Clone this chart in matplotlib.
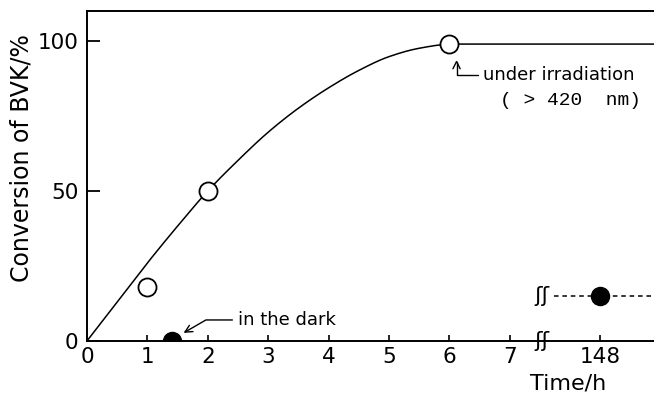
import numpy as np
import matplotlib
matplotlib.use("Agg")
import matplotlib.pyplot as plt

# ---- data ----
curve_t = [0, 0.5, 1, 1.5, 2, 2.5, 3, 3.5, 4, 4.5, 5, 5.5, 6]
curve_y = [0, 13, 26, 38.3, 50, 60.2, 69.6, 77.6, 84.4, 90.2, 94.8, 97.6, 99]
plateau_end = 9.39
light_t = [1, 2, 6]
light_y = [18, 50, 99]
dark_t = [1.4]
dark_y = [0]
late_label = "148"
late_pos = 8.5          # plotting position of t = 148 h (after axis break)
late_y = [15]
xtick_pos = [0, 1, 2, 3, 4, 5, 6, 7, late_pos]
xtick_labels = ["0", "1", "2", "3", "4", "5", "6", "7", late_label]
ytick_pos = [0, 50, 100]
break_pos = 7.53


def pchip(x, y, xn):
    x = np.asarray(x, float); y = np.asarray(y, float)
    h = np.diff(x); d = np.diff(y) / h
    m = np.zeros_like(y)
    for k in range(1, len(x) - 1):
        if d[k - 1] * d[k] > 0:
            w1 = 2 * h[k] + h[k - 1]; w2 = h[k] + 2 * h[k - 1]
            m[k] = (w1 + w2) / (w1 / d[k - 1] + w2 / d[k])
    m[0] = d[0]; m[-1] = d[-1] * 0.4
    idx = np.clip(np.searchsorted(x, xn) - 1, 0, len(x) - 2)
    t = (xn - x[idx]) / h[idx]
    h00 = 2 * t**3 - 3 * t**2 + 1; h10 = t**3 - 2 * t**2 + t
    h01 = -2 * t**3 + 3 * t**2; h11 = t**3 - t**2
    return (h00 * y[idx] + h10 * h[idx] * m[idx] + h01 * y[idx + 1]
            + h11 * h[idx] * m[idx + 1])


plt.rcParams['font.family'] = ['DejaVu Sans']
fig = plt.figure(figsize=(6.54, 3.96), dpi=100)
ax = fig.add_axes([0.133, 0.139, 0.867, 0.833])
ax.set_xlim(0, 9.39)
ax.set_ylim(0, 110)

tt = np.linspace(curve_t[0], curve_t[-1], 300)
ax.plot(np.append(tt, plateau_end), np.append(pchip(curve_t, curve_y, tt), curve_y[-1]),
        color='black', lw=1.1, zorder=2)
ax.plot(light_t, light_y, 'o', ms=13, mfc='white', mec='black', mew=1.3, zorder=3)
ax.plot(dark_t, dark_y, 'o', ms=13, mfc='black', mec='black', zorder=3, clip_on=True)
ax.plot([break_pos + 0.2, plateau_end], late_y * 2, '--', color='black', lw=1.1,
        dashes=(3, 2.5), zorder=2)
ax.plot([late_pos], late_y, 'o', ms=13, mfc='black', mec='black', zorder=3)

ax.spines['right'].set_visible(False)
for s in ['left', 'bottom', 'top']:
    ax.spines[s].set_linewidth(1.4)

ax.set_xticks(xtick_pos)
ax.set_xticklabels(xtick_labels, fontsize=15.5)
ax.set_yticks(ytick_pos)
ax.set_yticklabels([str(v) for v in ytick_pos], fontsize=15.5)
ax.tick_params(axis='y', direction='in', length=9, width=1.3, pad=6)
ax.tick_params(axis='x', direction='in', length=4, width=1.2, pad=4)

ax.set_ylabel("Conversion of BVK/%", fontsize=17)
ax.yaxis.set_label_coords(-0.095, 0.555)
ax.text(7.96, -11, "Time/h", fontsize=16, ha='center', va='top', clip_on=False)

# axis break marks
for y in [0, late_y[0]]:
    ax.text(break_pos, y, "ʃʃ", fontsize=16, ha='center', va='center',
            clip_on=False, zorder=4)

# annotations
ax.annotate("in the dark", xy=(1.6, 2.7), xytext=(2.5, 7),
            fontsize=13, va='center', ha='left',
            arrowprops=dict(arrowstyle='->', color='black', lw=1.0,
                            connectionstyle='angle,angleA=0,angleB=30,rad=0',
                            shrinkA=2, shrinkB=0))
ax.annotate("under irradiation", xy=(6.12, 93.7), xytext=(6.56, 88.7),
            fontsize=13, va='center', ha='left',
            arrowprops=dict(arrowstyle='->', color='black', lw=1.0,
                            connectionstyle='angle,angleA=0,angleB=90,rad=0',
                            shrinkA=2, shrinkB=0))
ax.text(8.0, 80.3, "( > 420  nm)", fontsize=14, ha='center', va='center',
        family='Liberation Mono')

fig.savefig("out.png", dpi=100)
